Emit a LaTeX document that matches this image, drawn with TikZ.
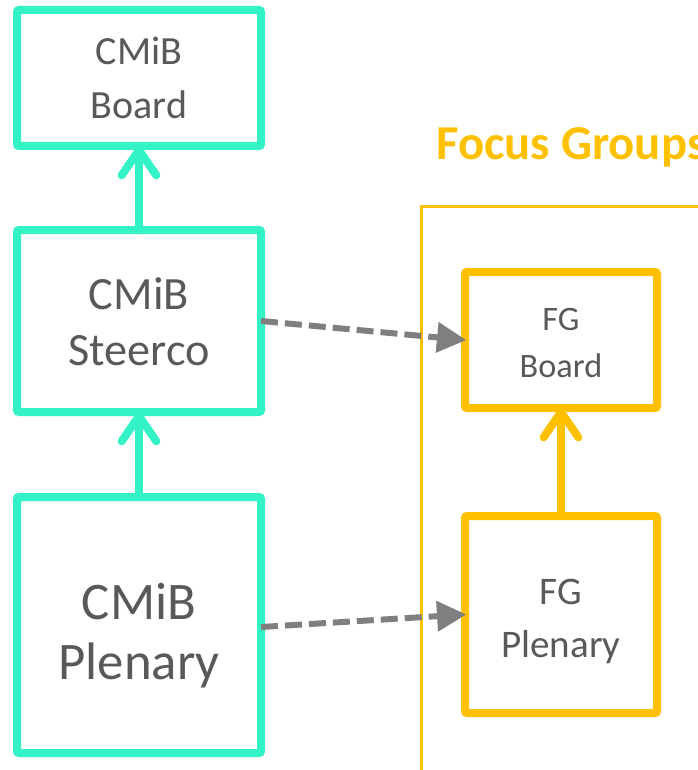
\documentclass[tikz,border=0pt]{standalone}
\usepackage{fontspec}
\setmainfont{Carlito}
\usetikzlibrary{arrows.meta}

\definecolor{cmibteal}{RGB}{51,242,198}
\definecolor{fgorange}{RGB}{255,192,0}
\definecolor{labelgray}{RGB}{89,89,89}
\definecolor{linkgray}{RGB}{127,127,127}

\tikzset{
  % coordinates are given in pixels of a 697 x 770 canvas
  x=0.75pt, y=-0.75pt,
  body/.style={draw, line width=6pt, rectangle, rounded corners=1.5pt,
    outer sep=0pt, inner sep=0pt, text=labelgray, align=center, text depth=0pt},
  cmibbox/.style={body, draw=cmibteal},
  fgbox/.style={body, draw=fgorange},
  uplink/.style={line width=6pt, line cap=round,
    -{Straight Barb[length=19pt, width=26pt, round]}},
  dashlink/.style={draw=linkgray, line width=4.5pt,
    dash pattern=on 12.75pt off 5.25pt,
    -{Triangle[length=22pt, width=22pt]}, shorten >=-1pt},
  frameline/.style={draw=fgorange, line width=2.25pt},
}

\begin{document}
\begin{tikzpicture}
\useasboundingbox (0,0) rectangle (697,770);

% CMiB column
\node[cmibbox, minimum width=244*0.75pt, minimum height=136*0.75pt,
      text height=61.5pt, font=\fontsize{30}{40.5}\selectfont]
      (board) at (139,78) {CMiB\\Board};
\node[cmibbox, minimum width=244*0.75pt, minimum height=182*0.75pt,
      text height=66pt, font=\fontsize{34.7}{42}\selectfont]
      (steerco) at (139,321) {CMiB\\Steerco};
\node[cmibbox, minimum width=244*0.75pt, minimum height=256*0.75pt,
      text height=81pt, font=\fontsize{39.6}{44.5}\selectfont]
      (plenary) at (139,625) {CMiB\\Plenary};

\draw[uplink, cmibteal] (steerco.north) -- (board.south);
\draw[uplink, cmibteal] (plenary.north) -- (steerco.south);

% Focus group frame and title
\coordinate (framebottom) at (421,775);
\coordinate (framecorner) at (421,206);
\coordinate (frameright) at (702,206);
\draw[frameline] (framebottom) -- (framecorner) -- (frameright);
\node[anchor=base west, inner sep=0pt, text=fgorange,
      font=\fontsize{36.5}{40}\selectfont\bfseries] (fgtitle) at (436,160) {Focus Groups};

\node[fgbox, minimum width=192*0.75pt, minimum height=136*0.75pt,
      text height=55.5pt, font=\fontsize{25.7}{35.25}\selectfont]
      (fgboard) at (561,340) {FG\\Board};
\node[fgbox, minimum width=192*0.75pt, minimum height=197*0.75pt,
      text height=63.75pt, font=\fontsize{29.3}{39.75}\selectfont]
      (fgplenary) at (561,614.5) {FG\\Plenary};

\draw[uplink, fgorange] (fgplenary.north) -- (fgboard.south);

% links between the two groups
\draw[dashlink] (steerco.east) -- (fgboard.west);
\draw[dashlink] ([yshift=-1.5pt]plenary.east) -- (fgplenary.west);
\end{tikzpicture}
\end{document}
